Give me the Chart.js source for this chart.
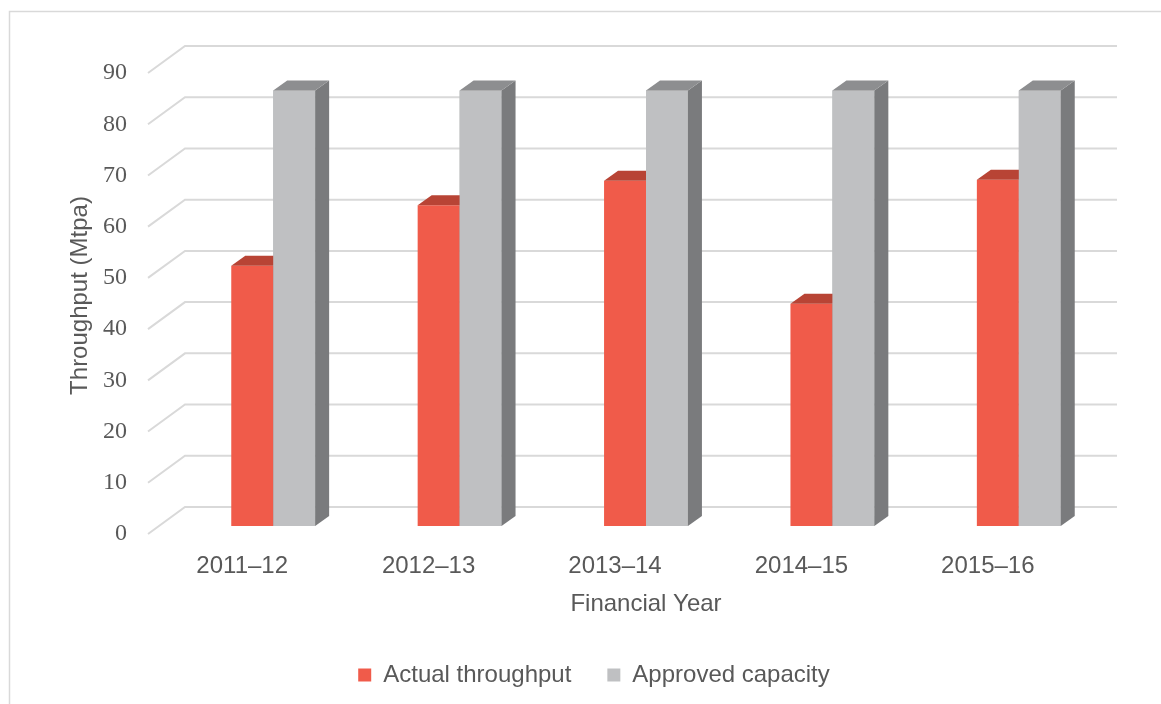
<!DOCTYPE html>
<html lang="en">
<head>
    <meta charset="UTF-8">
    <title>Throughput</title>
    <script src="https://cdn.jsdelivr.net/npm/chart.js"></script>
    <style>
        body {
            margin: 0;
            background: #ffffff;
        }
        #wrap {
            width: 1161px;
            height: 704px;
            position: relative;
        }
    </style>
</head>
<body>
    <div id="wrap"><canvas id="throughputChart"></canvas></div>

    <script>
        const years = ['2011–12', '2012–13', '2013–14', '2014–15', '2015–16'];
        const actualThroughput = [50.8, 62.6, 67.4, 43.4, 67.6];
        const approvedCapacity = [85, 85, 85, 85, 85];
        const yTicks = [0, 10, 20, 30, 40, 50, 60, 70, 80, 90];

        const textColor = '#595959';
        const gridColor = '#d9d9d9';
        const sansFont = "'Liberation Sans', Arial, sans-serif";

        // darker faces for the 3D look
        const faceColors = [
            { top: '#b84435', side: '#a83c2f' },
            { top: '#8d8e90', side: '#7a7b7d' }
        ];
        const depthX = 14, depthY = 10;

        const frame = {
            id: 'frame',
            afterLayout(chart) {
                // legend sits a bit right of centre in the original
                chart.legend.left += 38;
                chart.legend.right += 38;
            },
            beforeDraw(chart) {
                const ctx = chart.ctx;
                ctx.save();
                ctx.strokeStyle = gridColor;
                ctx.lineWidth = 1.5;
                ctx.strokeRect(9.5, 11.5, chart.width + 10, chart.height + 10);
                ctx.restore();
            },
            beforeDatasetsDraw(chart) {
                const ctx = chart.ctx;
                const y = chart.scales.y;
                const area = chart.chartArea;
                ctx.save();
                ctx.strokeStyle = gridColor;
                ctx.lineWidth = 2;
                y.ticks.forEach(t => {
                    const py = y.getPixelForValue(t.value);
                    ctx.beginPath();
                    ctx.moveTo(area.left - 32, py + 8);
                    ctx.lineTo(area.left + 5, py - 19);
                    ctx.lineTo(area.right + 5, py - 19);
                    ctx.stroke();
                });
                ctx.restore();
            },
            afterDatasetsDraw(chart) {
                const ctx = chart.ctx;
                ctx.save();
                chart.getSortedVisibleDatasetMetas().forEach((meta, i) => {
                    // bars on the right cover the faces of the ones before them
                    if (i > 0) meta.data.forEach(bar => bar.draw(ctx));
                    const colors = faceColors[meta.index];
                    meta.data.forEach(bar => {
                        const l = bar.x - bar.width / 2;
                        const r = bar.x + bar.width / 2;
                        ctx.fillStyle = colors.side;
                        ctx.beginPath();
                        ctx.moveTo(r, bar.y);
                        ctx.lineTo(r + depthX, bar.y - depthY);
                        ctx.lineTo(r + depthX, bar.base - depthY);
                        ctx.lineTo(r, bar.base);
                        ctx.closePath();
                        ctx.fill();
                        ctx.fillStyle = colors.top;
                        ctx.beginPath();
                        ctx.moveTo(l, bar.y);
                        ctx.lineTo(l + depthX, bar.y - depthY);
                        ctx.lineTo(r + depthX, bar.y - depthY);
                        ctx.lineTo(r, bar.y);
                        ctx.closePath();
                        ctx.fill();
                    });
                });
                ctx.restore();
            }
        };

        const ctx = document.getElementById('throughputChart').getContext('2d');
        const throughputChart = new Chart(ctx, {
            type: 'bar',
            data: {
                labels: years,
                datasets: [{
                    label: 'Actual throughput',
                    data: actualThroughput,
                    backgroundColor: '#f05b4a',
                    barPercentage: 1,
                    categoryPercentage: 0.45
                }, {
                    label: 'Approved capacity',
                    data: approvedCapacity,
                    backgroundColor: '#bfc0c2',
                    barPercentage: 1,
                    categoryPercentage: 0.45
                }]
            },
            options: {
                responsive: true,
                maintainAspectRatio: false,
                animation: false,
                layout: {
                    padding: { left: 0, right: 49, top: 65, bottom: 7 }
                },
                plugins: {
                    tooltip: { enabled: false },
                    legend: {
                        position: 'bottom',
                        labels: {
                            boxWidth: 13,
                            boxHeight: 13,
                            padding: 36,
                            color: textColor,
                            font: { family: sansFont, size: 24 }
                        }
                    }
                },
                scales: {
                    x: {
                        grid: { display: false },
                        border: { display: false },
                        ticks: {
                            color: textColor,
                            font: { family: sansFont, size: 24 },
                            padding: 18,
                            labelOffset: -31,
                            maxRotation: 0
                        },
                        title: {
                            display: true,
                            text: 'Financial Year',
                            color: textColor,
                            font: { family: sansFont, size: 24 },
                            padding: { top: 0, bottom: 8 }
                        },
                        afterFit(scale) {
                            scale.height = 101;
                        }
                    },
                    y: {
                        min: 0,
                        max: 90,
                        afterBuildTicks(scale) {
                            scale.ticks = yTicks.map(v => ({ value: v }));
                        },
                        grid: { display: false },
                        border: { display: false },
                        ticks: {
                            color: textColor,
                            font: { family: "'Liberation Serif', serif", size: 24 },
                            padding: 45,
                            labelOffset: 8
                        },
                        title: {
                            display: true,
                            text: 'Throughput (Mtpa)',
                            color: textColor,
                            font: { family: sansFont, size: 24 },
                            padding: { top: 66, bottom: 0 }
                        },
                        afterFit(scale) {
                            scale.width = 180;
                        }
                    }
                }
            },
            plugins: [frame]
        });
    </script>
</body>
</html>
